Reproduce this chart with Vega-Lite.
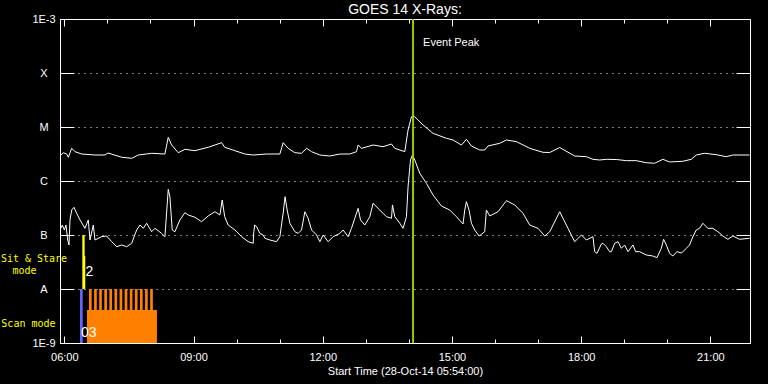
{
  "$schema": "https://vega.github.io/schema/vega-lite/v6.json",
  "width": 690,
  "height": 324,
  "autosize": {"type": "none"},
  "padding": {"left": 60, "top": 19, "right": 18, "bottom": 41},
  "background": "black",
  "title": {"text": "GOES 14 X-Rays:", "color": "white", "fontSize": 14, "fontWeight": "normal", "font": "Liberation Sans", "anchor": "middle", "baseline": "alphabetic", "offset": -15},
  "config": {
    "view": {"stroke": "white", "strokeWidth": 1},
    "font": "Liberation Sans",
    "axis": {"grid": false, "domain": false, "labelColor": "white", "tickColor": "white", "titleColor": "white", "labelFontSize": 11, "titleFontSize": 11, "titleFontWeight": "normal", "labelFlush": false, "labelOverlap": false, "labelFont": "Liberation Sans", "titleFont": "Liberation Sans"}
  },
  "datasets": {
    "modes": [
      {"kind": "scan", "t0": 6.364, "t1": 6.427, "f0": 1e-9, "f1": 1e-8},
      {"kind": "sit_stare", "t0": 6.418, "t1": 6.473, "f0": 1e-8, "f1": 1e-7},
      {"kind": "sit_stare", "t0": 6.457, "t1": 6.487, "f0": 1e-8, "f1": 4.07e-8},
      {"kind": "other", "t0": 6.527, "t1": 8.151, "f0": 1e-9, "f1": 4.08e-9},
      {"kind": "other", "t0": 6.573, "t1": 6.636, "f0": 1e-9, "f1": 1e-8},
      {"kind": "other", "t0": 6.691, "t1": 6.754, "f0": 1e-9, "f1": 1e-8},
      {"kind": "other", "t0": 6.810, "t1": 6.872, "f0": 1e-9, "f1": 1e-8},
      {"kind": "other", "t0": 6.928, "t1": 6.991, "f0": 1e-9, "f1": 1e-8},
      {"kind": "other", "t0": 7.046, "t1": 7.109, "f0": 1e-9, "f1": 1e-8},
      {"kind": "other", "t0": 7.165, "t1": 7.227, "f0": 1e-9, "f1": 1e-8},
      {"kind": "other", "t0": 7.283, "t1": 7.346, "f0": 1e-9, "f1": 1e-8},
      {"kind": "other", "t0": 7.401, "t1": 7.464, "f0": 1e-9, "f1": 1e-8},
      {"kind": "other", "t0": 7.520, "t1": 7.582, "f0": 1e-9, "f1": 1e-8},
      {"kind": "other", "t0": 7.638, "t1": 7.701, "f0": 1e-9, "f1": 1e-8},
      {"kind": "other", "t0": 7.756, "t1": 7.819, "f0": 1e-9, "f1": 1e-8},
      {"kind": "other", "t0": 7.875, "t1": 7.937, "f0": 1e-9, "f1": 1e-8},
      {"kind": "other", "t0": 7.993, "t1": 8.056, "f0": 1e-9, "f1": 1e-8}
    ],
    "goes": [
      {"ch": "long", "t": 5.923, "flux": 3.03e-6},
      {"ch": "long", "t": 5.977, "flux": 3.34e-6},
      {"ch": "long", "t": 6.056, "flux": 3.16e-6},
      {"ch": "long", "t": 6.093, "flux": 2.75e-6},
      {"ch": "long", "t": 6.172, "flux": 4.03e-6},
      {"ch": "long", "t": 6.248, "flux": 3.49e-6},
      {"ch": "long", "t": 6.404, "flux": 3.16e-6},
      {"ch": "long", "t": 6.712, "flux": 3.03e-6},
      {"ch": "long", "t": 6.944, "flux": 3.03e-6},
      {"ch": "long", "t": 7.014, "flux": 3.30e-6},
      {"ch": "long", "t": 7.332, "flux": 2.75e-6},
      {"ch": "long", "t": 7.564, "flux": 2.63e-6},
      {"ch": "long", "t": 7.717, "flux": 3.03e-6},
      {"ch": "long", "t": 8.028, "flux": 3.26e-6},
      {"ch": "long", "t": 8.336, "flux": 3.16e-6},
      {"ch": "long", "t": 8.413, "flux": 6.44e-6},
      {"ch": "long", "t": 8.492, "flux": 4.64e-6},
      {"ch": "long", "t": 8.645, "flux": 3.34e-6},
      {"ch": "long", "t": 8.800, "flux": 3.86e-6},
      {"ch": "long", "t": 9.032, "flux": 3.64e-6},
      {"ch": "long", "t": 9.341, "flux": 4.21e-6},
      {"ch": "long", "t": 9.652, "flux": 5.12e-6},
      {"ch": "long", "t": 9.724, "flux": 4.21e-6},
      {"ch": "long", "t": 9.961, "flux": 3.64e-6},
      {"ch": "long", "t": 10.193, "flux": 3.16e-6},
      {"ch": "long", "t": 10.385, "flux": 3.03e-6},
      {"ch": "long", "t": 10.696, "flux": 3.16e-6},
      {"ch": "long", "t": 11.005, "flux": 3.16e-6},
      {"ch": "long", "t": 11.081, "flux": 5.12e-6},
      {"ch": "long", "t": 11.197, "flux": 4.03e-6},
      {"ch": "long", "t": 11.353, "flux": 3.34e-6},
      {"ch": "long", "t": 11.508, "flux": 3.26e-6},
      {"ch": "long", "t": 11.624, "flux": 4.03e-6},
      {"ch": "long", "t": 11.740, "flux": 3.49e-6},
      {"ch": "long", "t": 11.933, "flux": 3.03e-6},
      {"ch": "long", "t": 12.165, "flux": 2.90e-6},
      {"ch": "long", "t": 12.397, "flux": 3.16e-6},
      {"ch": "long", "t": 12.629, "flux": 3.16e-6},
      {"ch": "long", "t": 12.784, "flux": 3.49e-6},
      {"ch": "long", "t": 12.821, "flux": 4.64e-6},
      {"ch": "long", "t": 12.900, "flux": 4.03e-6},
      {"ch": "long", "t": 13.169, "flux": 4.64e-6},
      {"ch": "long", "t": 13.401, "flux": 4.32e-6},
      {"ch": "long", "t": 13.596, "flux": 4.84e-6},
      {"ch": "long", "t": 13.673, "flux": 4.03e-6},
      {"ch": "long", "t": 13.905, "flux": 3.49e-6},
      {"ch": "long", "t": 13.981, "flux": 8.80e-6},
      {"ch": "long", "t": 14.060, "flux": 1.55e-5},
      {"ch": "long", "t": 14.137, "flux": 1.55e-5},
      {"ch": "long", "t": 14.329, "flux": 1.09e-5},
      {"ch": "long", "t": 14.561, "flux": 7.64e-6},
      {"ch": "long", "t": 14.872, "flux": 6.18e-6},
      {"ch": "long", "t": 15.026, "flux": 5.74e-6},
      {"ch": "long", "t": 15.220, "flux": 4.64e-6},
      {"ch": "long", "t": 15.336, "flux": 5.92e-6},
      {"ch": "long", "t": 15.452, "flux": 4.45e-6},
      {"ch": "long", "t": 15.645, "flux": 3.75e-6},
      {"ch": "long", "t": 15.761, "flux": 3.75e-6},
      {"ch": "long", "t": 15.838, "flux": 4.45e-6},
      {"ch": "long", "t": 16.109, "flux": 4.99e-6},
      {"ch": "long", "t": 16.265, "flux": 5.74e-6},
      {"ch": "long", "t": 16.497, "flux": 5.35e-6},
      {"ch": "long", "t": 16.806, "flux": 4.03e-6},
      {"ch": "long", "t": 17.114, "flux": 3.40e-6},
      {"ch": "long", "t": 17.270, "flux": 3.37e-6},
      {"ch": "long", "t": 17.502, "flux": 4.17e-6},
      {"ch": "long", "t": 17.850, "flux": 2.90e-6},
      {"ch": "long", "t": 18.121, "flux": 2.82e-6},
      {"ch": "long", "t": 18.274, "flux": 2.52e-6},
      {"ch": "long", "t": 18.430, "flux": 2.45e-6},
      {"ch": "long", "t": 18.585, "flux": 2.52e-6},
      {"ch": "long", "t": 18.817, "flux": 2.50e-6},
      {"ch": "long", "t": 19.049, "flux": 2.38e-6},
      {"ch": "long", "t": 19.281, "flux": 2.38e-6},
      {"ch": "long", "t": 19.513, "flux": 2.18e-6},
      {"ch": "long", "t": 19.705, "flux": 2.13e-6},
      {"ch": "long", "t": 19.898, "flux": 2.52e-6},
      {"ch": "long", "t": 20.053, "flux": 2.25e-6},
      {"ch": "long", "t": 20.362, "flux": 2.32e-6},
      {"ch": "long", "t": 20.557, "flux": 2.52e-6},
      {"ch": "long", "t": 20.673, "flux": 3.03e-6},
      {"ch": "long", "t": 20.866, "flux": 3.26e-6},
      {"ch": "long", "t": 21.137, "flux": 3.07e-6},
      {"ch": "long", "t": 21.369, "flux": 2.82e-6},
      {"ch": "long", "t": 21.522, "flux": 3.03e-6},
      {"ch": "long", "t": 21.910, "flux": 3.03e-6},
      {"ch": "short", "t": 5.923, "flux": 1.33e-7},
      {"ch": "short", "t": 5.954, "flux": 1.53e-7},
      {"ch": "short", "t": 6.000, "flux": 1.24e-7},
      {"ch": "short", "t": 6.039, "flux": 1.53e-7},
      {"ch": "short", "t": 6.079, "flux": 8.08e-8},
      {"ch": "short", "t": 6.109, "flux": 6.53e-8},
      {"ch": "short", "t": 6.132, "flux": 1.90e-7},
      {"ch": "short", "t": 6.172, "flux": 2.90e-7},
      {"ch": "short", "t": 6.225, "flux": 3.26e-7},
      {"ch": "short", "t": 6.288, "flux": 2.52e-7},
      {"ch": "short", "t": 6.364, "flux": 1.90e-7},
      {"ch": "short", "t": 6.480, "flux": 1.33e-7},
      {"ch": "short", "t": 6.557, "flux": 1.90e-7},
      {"ch": "short", "t": 6.596, "flux": 8.08e-8},
      {"ch": "short", "t": 6.673, "flux": 1.53e-7},
      {"ch": "short", "t": 6.712, "flux": 8.08e-8},
      {"ch": "short", "t": 6.868, "flux": 9.31e-8},
      {"ch": "short", "t": 6.984, "flux": 9.58e-8},
      {"ch": "short", "t": 7.100, "flux": 7.52e-8},
      {"ch": "short", "t": 7.216, "flux": 6.07e-8},
      {"ch": "short", "t": 7.332, "flux": 6.53e-8},
      {"ch": "short", "t": 7.448, "flux": 6.07e-8},
      {"ch": "short", "t": 7.564, "flux": 7.02e-8},
      {"ch": "short", "t": 7.680, "flux": 1.24e-7},
      {"ch": "short", "t": 7.756, "flux": 1.53e-7},
      {"ch": "short", "t": 7.833, "flux": 1.33e-7},
      {"ch": "short", "t": 7.912, "flux": 1.65e-7},
      {"ch": "short", "t": 8.028, "flux": 1.15e-7},
      {"ch": "short", "t": 8.104, "flux": 1.33e-7},
      {"ch": "short", "t": 8.260, "flux": 1.07e-7},
      {"ch": "short", "t": 8.336, "flux": 9.31e-8},
      {"ch": "short", "t": 8.413, "flux": 7.02e-7},
      {"ch": "short", "t": 8.452, "flux": 5.12e-7},
      {"ch": "short", "t": 8.506, "flux": 1.24e-7},
      {"ch": "short", "t": 8.568, "flux": 1.15e-7},
      {"ch": "short", "t": 8.684, "flux": 1.90e-7},
      {"ch": "short", "t": 8.800, "flux": 2.59e-7},
      {"ch": "short", "t": 8.877, "flux": 2.35e-7},
      {"ch": "short", "t": 9.032, "flux": 2.13e-7},
      {"ch": "short", "t": 9.188, "flux": 1.76e-7},
      {"ch": "short", "t": 9.341, "flux": 2.25e-7},
      {"ch": "short", "t": 9.497, "flux": 2.70e-7},
      {"ch": "short", "t": 9.613, "flux": 2.35e-7},
      {"ch": "short", "t": 9.666, "flux": 4.45e-7},
      {"ch": "short", "t": 9.724, "flux": 2.18e-7},
      {"ch": "short", "t": 9.805, "flux": 1.53e-7},
      {"ch": "short", "t": 9.961, "flux": 1.24e-7},
      {"ch": "short", "t": 10.116, "flux": 9.31e-8},
      {"ch": "short", "t": 10.269, "flux": 7.52e-8},
      {"ch": "short", "t": 10.385, "flux": 7.02e-8},
      {"ch": "short", "t": 10.400, "flux": 1.15e-7},
      {"ch": "short", "t": 10.420, "flux": 1.53e-7},
      {"ch": "short", "t": 10.464, "flux": 1.43e-7},
      {"ch": "short", "t": 10.541, "flux": 1.07e-7},
      {"ch": "short", "t": 10.617, "flux": 1.00e-7},
      {"ch": "short", "t": 10.657, "flux": 8.69e-8},
      {"ch": "short", "t": 10.773, "flux": 8.08e-8},
      {"ch": "short", "t": 10.928, "flux": 7.52e-8},
      {"ch": "short", "t": 11.005, "flux": 9.31e-8},
      {"ch": "short", "t": 11.081, "flux": 2.52e-7},
      {"ch": "short", "t": 11.125, "flux": 5.12e-7},
      {"ch": "short", "t": 11.174, "flux": 2.90e-7},
      {"ch": "short", "t": 11.237, "flux": 1.65e-7},
      {"ch": "short", "t": 11.353, "flux": 1.15e-7},
      {"ch": "short", "t": 11.429, "flux": 1.07e-7},
      {"ch": "short", "t": 11.508, "flux": 1.24e-7},
      {"ch": "short", "t": 11.585, "flux": 2.70e-7},
      {"ch": "short", "t": 11.661, "flux": 2.04e-7},
      {"ch": "short", "t": 11.740, "flux": 1.24e-7},
      {"ch": "short", "t": 11.856, "flux": 1.00e-7},
      {"ch": "short", "t": 11.933, "flux": 7.52e-8},
      {"ch": "short", "t": 12.009, "flux": 1.00e-7},
      {"ch": "short", "t": 12.125, "flux": 7.52e-8},
      {"ch": "short", "t": 12.241, "flux": 9.31e-8},
      {"ch": "short", "t": 12.397, "flux": 1.07e-7},
      {"ch": "short", "t": 12.473, "flux": 1.24e-7},
      {"ch": "short", "t": 12.589, "flux": 9.31e-8},
      {"ch": "short", "t": 12.668, "flux": 1.33e-7},
      {"ch": "short", "t": 12.745, "flux": 2.04e-7},
      {"ch": "short", "t": 12.821, "flux": 3.12e-7},
      {"ch": "short", "t": 12.877, "flux": 1.90e-7},
      {"ch": "short", "t": 12.977, "flux": 1.53e-7},
      {"ch": "short", "t": 13.093, "flux": 2.18e-7},
      {"ch": "short", "t": 13.169, "flux": 3.86e-7},
      {"ch": "short", "t": 13.325, "flux": 2.90e-7},
      {"ch": "short", "t": 13.480, "flux": 2.18e-7},
      {"ch": "short", "t": 13.596, "flux": 2.04e-7},
      {"ch": "short", "t": 13.619, "flux": 3.60e-7},
      {"ch": "short", "t": 13.673, "flux": 2.18e-7},
      {"ch": "short", "t": 13.789, "flux": 1.65e-7},
      {"ch": "short", "t": 13.865, "flux": 1.33e-7},
      {"ch": "short", "t": 13.944, "flux": 2.18e-7},
      {"ch": "short", "t": 13.981, "flux": 7.84e-7},
      {"ch": "short", "t": 14.037, "flux": 2.45e-6},
      {"ch": "short", "t": 14.083, "flux": 3.03e-6},
      {"ch": "short", "t": 14.137, "flux": 2.45e-6},
      {"ch": "short", "t": 14.253, "flux": 1.39e-6},
      {"ch": "short", "t": 14.408, "flux": 9.06e-7},
      {"ch": "short", "t": 14.561, "flux": 5.51e-7},
      {"ch": "short", "t": 14.756, "flux": 3.44e-7},
      {"ch": "short", "t": 14.949, "flux": 2.90e-7},
      {"ch": "short", "t": 15.104, "flux": 2.18e-7},
      {"ch": "short", "t": 15.258, "flux": 1.60e-7},
      {"ch": "short", "t": 15.297, "flux": 2.90e-7},
      {"ch": "short", "t": 15.336, "flux": 4.14e-7},
      {"ch": "short", "t": 15.397, "flux": 2.90e-7},
      {"ch": "short", "t": 15.452, "flux": 1.65e-7},
      {"ch": "short", "t": 15.529, "flux": 1.24e-7},
      {"ch": "short", "t": 15.629, "flux": 9.58e-8},
      {"ch": "short", "t": 15.761, "flux": 1.15e-7},
      {"ch": "short", "t": 15.800, "flux": 2.90e-7},
      {"ch": "short", "t": 15.877, "flux": 2.25e-7},
      {"ch": "short", "t": 16.070, "flux": 2.70e-7},
      {"ch": "short", "t": 16.265, "flux": 4.32e-7},
      {"ch": "short", "t": 16.457, "flux": 3.60e-7},
      {"ch": "short", "t": 16.650, "flux": 2.52e-7},
      {"ch": "short", "t": 16.806, "flux": 1.53e-7},
      {"ch": "short", "t": 16.998, "flux": 1.33e-7},
      {"ch": "short", "t": 17.154, "flux": 9.58e-8},
      {"ch": "short", "t": 17.270, "flux": 1.15e-7},
      {"ch": "short", "t": 17.502, "flux": 2.70e-7},
      {"ch": "short", "t": 17.694, "flux": 1.33e-7},
      {"ch": "short", "t": 17.850, "flux": 7.52e-8},
      {"ch": "short", "t": 18.005, "flux": 1.00e-7},
      {"ch": "short", "t": 18.121, "flux": 8.08e-8},
      {"ch": "short", "t": 18.274, "flux": 9.31e-8},
      {"ch": "short", "t": 18.314, "flux": 4.91e-8},
      {"ch": "short", "t": 18.367, "flux": 4.58e-8},
      {"ch": "short", "t": 18.469, "flux": 6.81e-8},
      {"ch": "short", "t": 18.506, "flux": 7.02e-8},
      {"ch": "short", "t": 18.585, "flux": 6.07e-8},
      {"ch": "short", "t": 18.661, "flux": 4.91e-8},
      {"ch": "short", "t": 18.701, "flux": 4.91e-8},
      {"ch": "short", "t": 18.777, "flux": 7.02e-8},
      {"ch": "short", "t": 18.854, "flux": 7.52e-8},
      {"ch": "short", "t": 18.933, "flux": 5.67e-8},
      {"ch": "short", "t": 19.009, "flux": 6.53e-8},
      {"ch": "short", "t": 19.086, "flux": 4.91e-8},
      {"ch": "short", "t": 19.202, "flux": 6.53e-8},
      {"ch": "short", "t": 19.265, "flux": 4.91e-8},
      {"ch": "short", "t": 19.357, "flux": 4.91e-8},
      {"ch": "short", "t": 19.513, "flux": 4.27e-8},
      {"ch": "short", "t": 19.666, "flux": 4.08e-8},
      {"ch": "short", "t": 19.759, "flux": 3.80e-8},
      {"ch": "short", "t": 19.861, "flux": 5.67e-8},
      {"ch": "short", "t": 19.914, "flux": 8.32e-8},
      {"ch": "short", "t": 19.977, "flux": 6.53e-8},
      {"ch": "short", "t": 20.053, "flux": 4.58e-8},
      {"ch": "short", "t": 20.130, "flux": 4.08e-8},
      {"ch": "short", "t": 20.223, "flux": 4.91e-8},
      {"ch": "short", "t": 20.332, "flux": 4.64e-8},
      {"ch": "short", "t": 20.441, "flux": 5.67e-8},
      {"ch": "short", "t": 20.517, "flux": 6.53e-8},
      {"ch": "short", "t": 20.594, "flux": 9.31e-8},
      {"ch": "short", "t": 20.673, "flux": 1.24e-7},
      {"ch": "short", "t": 20.749, "flux": 1.33e-7},
      {"ch": "short", "t": 20.826, "flux": 1.65e-7},
      {"ch": "short", "t": 20.942, "flux": 1.33e-7},
      {"ch": "short", "t": 21.058, "flux": 1.33e-7},
      {"ch": "short", "t": 21.174, "flux": 1.15e-7},
      {"ch": "short", "t": 21.290, "flux": 9.58e-8},
      {"ch": "short", "t": 21.406, "flux": 8.32e-8},
      {"ch": "short", "t": 21.522, "flux": 9.58e-8},
      {"ch": "short", "t": 21.677, "flux": 8.32e-8},
      {"ch": "short", "t": 21.910, "flux": 8.69e-8}
    ]
  },
  "layer": [
    {
      "data": {"name": "modes"},
      "mark": {"type": "rect"},
      "encoding": {
        "x": {"field": "t0", "type": "quantitative", "scale": {"type": "linear", "domain": [5.9, 21.92], "nice": false, "zero": false}, "axis": null},
        "x2": {"field": "t1"},
        "y": {"field": "f0", "type": "quantitative", "scale": {"type": "log", "domain": [1e-9, 1e-3], "nice": false},
          "axis": {"orient": "right", "values": [1e-3, 1e-4, 1e-5, 1e-6, 1e-7, 1e-8, 1e-9], "tickSize": -14, "labels": false, "title": null, "grid": false, "minExtent": 0, "maxExtent": 0}},
        "y2": {"field": "f1"},
        "color": {"field": "kind", "type": "nominal", "scale": {"domain": ["scan", "sit_stare", "other"], "range": ["#6464ff", "#ffff00", "#ff8000"]}, "legend": null}
      }
    },
    {
      "data": {"name": "goes"},
      "mark": {"type": "line", "color": "white", "strokeWidth": 1},
      "encoding": {
        "x": {"field": "t", "type": "quantitative", "scale": {"type": "linear", "domain": [5.9, 21.92], "nice": false, "zero": false},
          "axis": {"orient": "bottom", "values": [6, 7, 8, 9, 10, 11, 12, 13, 14, 15, 16, 17, 18, 19, 20, 21],
            "tickSize": {"condition": {"test": "datum.value % 3 === 0", "value": -7}, "value": -4},
            "labelExpr": "datum.value % 3 === 0 ? (datum.value < 10 ? '0' : '') + datum.value + ':00' : ''",
            "labelPadding": 15, "title": "Start Time (28-Oct-14 05:54:00)", "titlePadding": 0}},
        "y": {"field": "flux", "type": "quantitative", "scale": {"type": "log", "domain": [1e-9, 1e-3], "nice": false},
          "axis": {"orient": "left", "values": [1e-3, 1e-4, 1e-5, 1e-6, 1e-7, 1e-8, 1e-9], "tickSize": -14,
            "labelExpr": "datum.value > 5e-4 ? '1E-3' : datum.value > 5e-5 ? 'X' : datum.value > 5e-6 ? 'M' : datum.value > 5e-7 ? 'C' : datum.value > 5e-8 ? 'B' : datum.value > 5e-9 ? 'A' : '1E-9'",
            "labelAlign": "center", "labelBaseline": "middle", "labelPadding": 30.5,
            "grid": true, "gridColor": "white", "gridDash": [1, 5], "gridOpacity": 1, "title": null}},
        "detail": {"field": "ch", "type": "nominal"}
      }
    },
    {
      "data": {"values": [{"event": "Event Peak", "t": 14.097}]},
      "mark": {"type": "rule", "color": "#99cc00", "strokeWidth": 2},
      "encoding": {
        "x": {"field": "t", "type": "quantitative", "scale": {"type": "linear", "domain": [5.9, 21.92], "nice": false, "zero": false},
          "axis": {"orient": "top", "values": [6, 7, 8, 9, 10, 11, 12, 13, 14, 15, 16, 17, 18, 19, 20, 21],
            "tickSize": {"condition": {"test": "datum.value % 3 === 0", "value": -7}, "value": -4},
            "labels": false, "title": null, "minExtent": 0, "maxExtent": 0}}
      }
    },
    {
      "data": {"values": [{"label": "Event Peak", "t": 14.33, "flux": 3.64e-4}]},
      "mark": {"type": "text", "align": "left", "baseline": "middle", "fontSize": 11, "color": "white"},
      "encoding": {
        "x": {"field": "t", "type": "quantitative", "scale": {"type": "linear", "domain": [5.9, 21.92], "nice": false, "zero": false}, "axis": null},
        "y": {"field": "flux", "type": "quantitative", "scale": {"type": "log", "domain": [1e-9, 1e-3], "nice": false}, "axis": null},
        "text": {"field": "label"}
      }
    },
    {
      "data": {"values": [{"label": "2", "t": 6.492, "flux": 2.07e-8}, {"label": "03", "t": 6.387, "flux": 1.56e-9}]},
      "mark": {"type": "text", "align": "left", "baseline": "middle", "fontSize": 14, "color": "white"},
      "encoding": {
        "x": {"field": "t", "type": "quantitative", "scale": {"type": "linear", "domain": [5.9, 21.92], "nice": false, "zero": false}, "axis": null},
        "y": {"field": "flux", "type": "quantitative", "scale": {"type": "log", "domain": [1e-9, 1e-3], "nice": false}, "axis": null},
        "text": {"field": "label"}
      }
    },
    {
      "data": {"values": [{"label": "Sit & Stare", "t": 5.297, "flux": 3.59e-8}, {"label": "mode", "t": 5.077, "flux": 2.20e-8}, {"label": "Scan mode", "t": 5.167, "flux": 2.25e-9}]},
      "mark": {"type": "text", "align": "center", "baseline": "middle", "fontSize": 10, "font": "DejaVu Sans Mono", "color": "#ffff00"},
      "encoding": {
        "x": {"field": "t", "type": "quantitative", "scale": {"type": "linear", "domain": [5.9, 21.92], "nice": false, "zero": false}, "axis": null},
        "y": {"field": "flux", "type": "quantitative", "scale": {"type": "log", "domain": [1e-9, 1e-3], "nice": false}, "axis": null},
        "text": {"field": "label"}
      }
    }
  ]
}
